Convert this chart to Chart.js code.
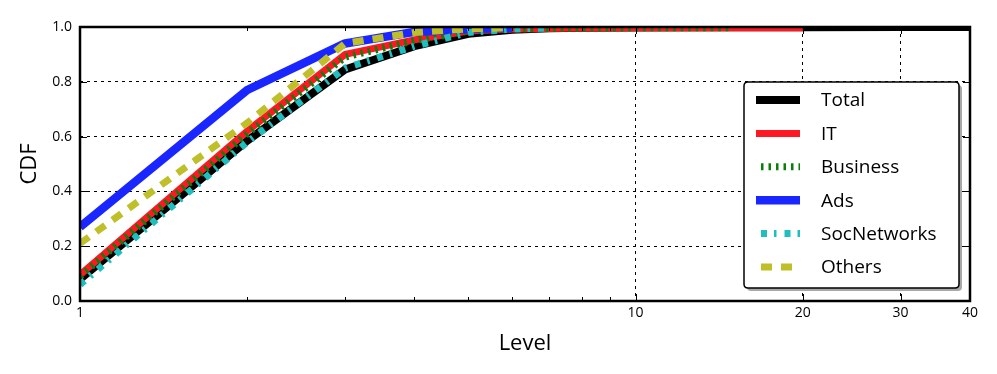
<!DOCTYPE html>
<html>
<head>
<meta charset="utf-8">
<script src="https://cdn.jsdelivr.net/npm/chart.js@4"></script>
<style>
    html, body { margin: 0; padding: 0; background: #fff; }
    #wrap { width: 997px; height: 374px; }
</style>
</head>
<body>
<div id="wrap"><canvas id="cdfChart" width="997" height="374"></canvas></div>
<script>
// levels (x) and CDF values (y) per series
var totalLevels = [1, 2, 3, 4, 5, 6, 7, 8, 10, 15, 20, 30, 40];
var totalValues = [0.08, 0.585, 0.845, 0.93, 0.975, 0.99, 0.995, 0.997, 0.998, 0.999, 0.999, 1.0, 1.0];

var itLevels = [1, 2, 3, 4, 5, 6, 8, 10, 15, 20];
var itValues = [0.095, 0.62, 0.9, 0.953, 0.985, 0.993, 0.996, 0.997, 0.997, 0.997];

var businessLevels = [1, 2, 3, 4, 5, 6, 8, 10, 15];
var businessValues = [0.09, 0.61, 0.89, 0.95, 0.985, 0.993, 0.996, 0.997, 0.997];

var adsLevels = [1, 2, 3, 4, 5, 6];
var adsValues = [0.27, 0.77, 0.94, 0.982, 0.993, 0.997];

var socLevels = [1, 2, 3, 4, 5, 6, 7];
var socValues = [0.06, 0.58, 0.85, 0.93, 0.98, 0.993, 0.997];

var othersLevels = [1, 2, 3, 4, 5, 6];
var othersValues = [0.21, 0.65, 0.94, 0.98, 0.993, 0.997];

var seriesNames = ['Total', 'IT', 'Business', 'Ads', 'SocNetworks', 'Others'];
var xTickValues = [1, 10, 20, 30, 40];
var minorTicks = [2, 3, 4, 5, 6, 7, 8, 9];

var FONT = '"Open Sans", "DejaVu Sans", sans-serif';

function toPoints(levels, values) {
    var pts = [];
    for (var i = 0; i < levels.length; i++) {
        pts.push({ x: levels[i], y: values[i] });
    }
    return pts;
}

var styles = [
    { color: '#000000', width: 8, dash: [] },
    { color: '#ff1722', width: 7, dash: [] },
    { color: '#0a7f0a', width: 7, dash: [2.5, 5] },
    { color: '#1a26ff', width: 8.5, dash: [] },
    { color: '#1fbfbf', width: 7, dash: [6, 7, 2.5, 8] },
    { color: '#bfbf2a', width: 7, dash: [11, 9] }
];

var seriesData = [
    toPoints(totalLevels, totalValues),
    toPoints(itLevels, itValues),
    toPoints(businessLevels, businessValues),
    toPoints(adsLevels, adsValues),
    toPoints(socLevels, socValues),
    toPoints(othersLevels, othersValues)
];

var datasets = seriesNames.map(function(name, i) {
    return {
        label: name,
        data: seriesData[i],
        borderColor: styles[i].color,
        backgroundColor: styles[i].color,
        borderWidth: styles[i].width,
        borderDash: styles[i].dash,
        borderCapStyle: 'butt',
        borderJoinStyle: 'round',
        pointRadius: 0,
        tension: 0,
        fill: false,
        order: seriesNames.length - i
    };
});

// frame, inward ticks, axis titles and the boxed legend
var framePlugin = {
    id: 'framePlugin',
    afterDatasetsDraw: function(chart) {
        var ctx = chart.ctx;
        var a = chart.chartArea;
        var xs = chart.scales.x;
        var ys = chart.scales.y;
        ctx.save();
        ctx.strokeStyle = '#000';
        ctx.setLineDash([]);

        ctx.lineWidth = 1;
        minorTicks.forEach(function(v) {
            var px = Math.round(xs.getPixelForValue(v)) + 0.5;
            ctx.beginPath();
            ctx.moveTo(px, a.bottom); ctx.lineTo(px, a.bottom - 4);
            ctx.moveTo(px, a.top); ctx.lineTo(px, a.top + 4);
            ctx.stroke();
        });
        xTickValues.forEach(function(v) {
            var px = Math.round(xs.getPixelForValue(v)) + 0.5;
            ctx.beginPath();
            ctx.moveTo(px, a.bottom); ctx.lineTo(px, a.bottom - 7);
            ctx.moveTo(px, a.top); ctx.lineTo(px, a.top + 7);
            ctx.stroke();
        });
        [0.2, 0.4, 0.6, 0.8].forEach(function(v) {
            var py = Math.round(ys.getPixelForValue(v)) + 0.5;
            ctx.beginPath();
            ctx.moveTo(a.left, py); ctx.lineTo(a.left + 7, py);
            ctx.moveTo(a.right, py); ctx.lineTo(a.right - 7, py);
            ctx.stroke();
        });

        ctx.lineWidth = 2.5;
        ctx.strokeRect(a.left, a.top, a.right - a.left, a.bottom - a.top);

        // axis titles
        ctx.fillStyle = '#000';
        ctx.font = '22px ' + FONT;
        ctx.textAlign = 'center';
        ctx.textBaseline = 'middle';
        ctx.fillText('Level', (a.left + a.right) / 2, 344);
        ctx.save();
        ctx.translate(30, (a.top + a.bottom) / 2);
        ctx.rotate(-Math.PI / 2);
        ctx.fillText('CDF', 0, 0);
        ctx.restore();

        // legend box
        var bx = 744, by = 82, bw = 215, bh = 206, r = 4;
        function roundRect(x, y, w, h) {
            ctx.beginPath();
            ctx.moveTo(x + r, y);
            ctx.lineTo(x + w - r, y);
            ctx.quadraticCurveTo(x + w, y, x + w, y + r);
            ctx.lineTo(x + w, y + h - r);
            ctx.quadraticCurveTo(x + w, y + h, x + w - r, y + h);
            ctx.lineTo(x + r, y + h);
            ctx.quadraticCurveTo(x, y + h, x, y + h - r);
            ctx.lineTo(x, y + r);
            ctx.quadraticCurveTo(x, y, x + r, y);
            ctx.closePath();
        }
        roundRect(bx + 3, by + 3, bw, bh);
        ctx.fillStyle = '#a8a8a8';
        ctx.fill();
        roundRect(bx, by, bw, bh);
        ctx.fillStyle = '#fff';
        ctx.fill();
        ctx.lineWidth = 1.5;
        ctx.strokeStyle = '#000';
        ctx.stroke();

        ctx.font = '19px ' + FONT;
        ctx.textBaseline = 'middle';
        ctx.textAlign = 'left';
        seriesNames.forEach(function(name, i) {
            var yy = 100 + i * 33.4;
            var dash = styles[i].dash;
            ctx.beginPath();
            ctx.strokeStyle = styles[i].color;
            ctx.lineWidth = styles[i].width;
            ctx.lineCap = 'butt';
            ctx.setLineDash(dash);
            if (dash.length) {
                var period = dash.reduce(function(s, d) { return s + d; }, 0);
                ctx.lineDashOffset = period - 5;
            } else {
                ctx.lineDashOffset = 0;
            }
            ctx.moveTo(756, yy);
            ctx.lineTo(800, yy);
            ctx.stroke();
            ctx.setLineDash([]);
            ctx.lineDashOffset = 0;
            ctx.fillStyle = '#000';
            ctx.fillText(name, 821, yy + 1);
        });
        ctx.restore();
    }
};

var ctx = document.getElementById('cdfChart').getContext('2d');
var cdfChart = new Chart(ctx, {
    type: 'line',
    data: { datasets: datasets },
    plugins: [framePlugin],
    options: {
        responsive: false,
        animation: false,
        layout: { padding: { top: 27, right: 27, left: 0, bottom: 0 } },
        plugins: {
            legend: { display: false },
            tooltip: { enabled: false }
        },
        scales: {
            x: {
                type: 'logarithmic',
                min: 1,
                max: 40,
                afterBuildTicks: function(scale) {
                    scale.ticks = xTickValues.map(function(v) { return { value: v }; });
                },
                afterFit: function(scale) { scale.height = 73; },
                ticks: {
                    color: '#000',
                    padding: 4,
                    font: { family: FONT, size: 14 },
                    maxRotation: 0,
                    autoSkip: false,
                    callback: function(v) { return String(v); }
                },
                grid: {
                    drawTicks: false,
                    color: function(c) {
                        var v = c.tick ? c.tick.value : null;
                        return (v === 10 || v === 20 || v === 30) ? '#000' : 'rgba(0,0,0,0)';
                    },
                    lineWidth: 1
                },
                border: { display: false, dash: [3, 4] }
            },
            y: {
                min: 0,
                max: 1,
                afterFit: function(scale) { scale.width = 80; },
                ticks: {
                    stepSize: 0.2,
                    color: '#000',
                    padding: 8,
                    font: { family: FONT, size: 14 },
                    callback: function(v) { return v.toFixed(1); }
                },
                grid: {
                    drawTicks: false,
                    color: function(c) {
                        var v = c.tick ? c.tick.value : null;
                        return (v > 0.01 && v < 0.99) ? '#000' : 'rgba(0,0,0,0)';
                    },
                    lineWidth: 1
                },
                border: { display: false, dash: [3, 4] }
            }
        }
    }
});
</script>
</body>
</html>
